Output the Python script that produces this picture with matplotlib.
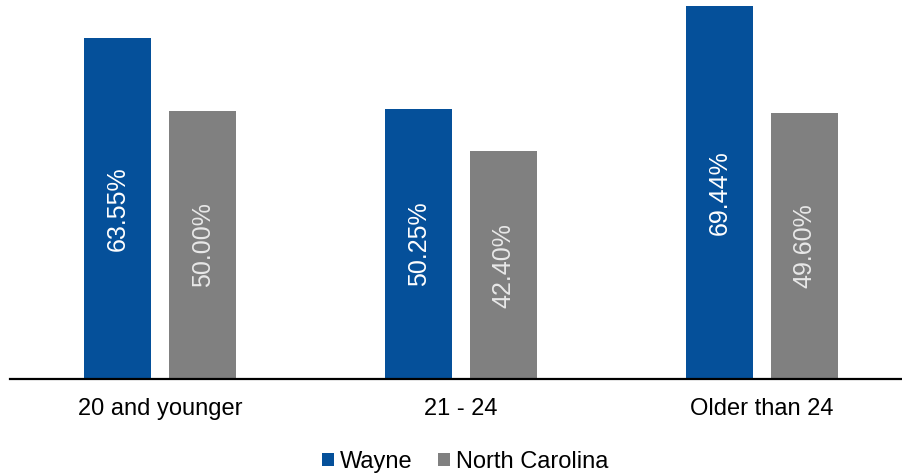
import matplotlib
matplotlib.use('Agg')
import matplotlib.pyplot as plt
import numpy as np

plt.rcParams['font.family'] = ['Liberation Sans', 'DejaVu Sans']

# data
categories = ['20 and younger', '21 - 24', 'Older than 24']
wayne = [63.55, 50.25, 69.44]
north_carolina = [50.00, 42.40, 49.60]

wayne_color = '#05509a'
nc_color = '#808080'

fig = plt.figure(figsize=(9.02, 4.74), dpi=100)
ax = fig.add_axes([10 / 902, 95 / 474, 902 / 902, 379 / 474])

x = np.arange(len(categories))
w = 0.223
off = 0.141
b1 = ax.bar(x - off, wayne, w, color=wayne_color, label='Wayne')
b2 = ax.bar(x + off, north_carolina, w, color=nc_color, label='North Carolina')

for bars, vals, tc in [(b1, wayne, 'white'), (b2, north_carolina, '#e8e8e8')]:
    for r, v in zip(bars, vals):
        ax.text(r.get_x() + r.get_width() / 2, v / 2, f'{v:.2f}%',
                rotation=90, ha='center', va='center', color=tc, fontsize=18)

ax.set_xlim(-0.5, 2.5)
ax.set_ylim(0, 70.6)
ax.set_xticks(x)
ax.set_xticklabels(categories, fontsize=17)
ax.tick_params(axis='x', length=0, pad=14)
ax.set_yticks([])
for s in ['top', 'right', 'left']:
    ax.spines[s].set_visible(False)
ax.spines['bottom'].set_linewidth(1.6)
ax.spines['bottom'].set_color('black')

fig.legend(handles=[b1, b2], loc='center', bbox_to_anchor=(465 / 902, 1 - 462 / 474),
           ncol=2, frameon=False, fontsize=17, handlelength=0.5, handleheight=0.5,
           handletextpad=0.25, columnspacing=1.1)

fig.savefig('out.png', dpi=100)
